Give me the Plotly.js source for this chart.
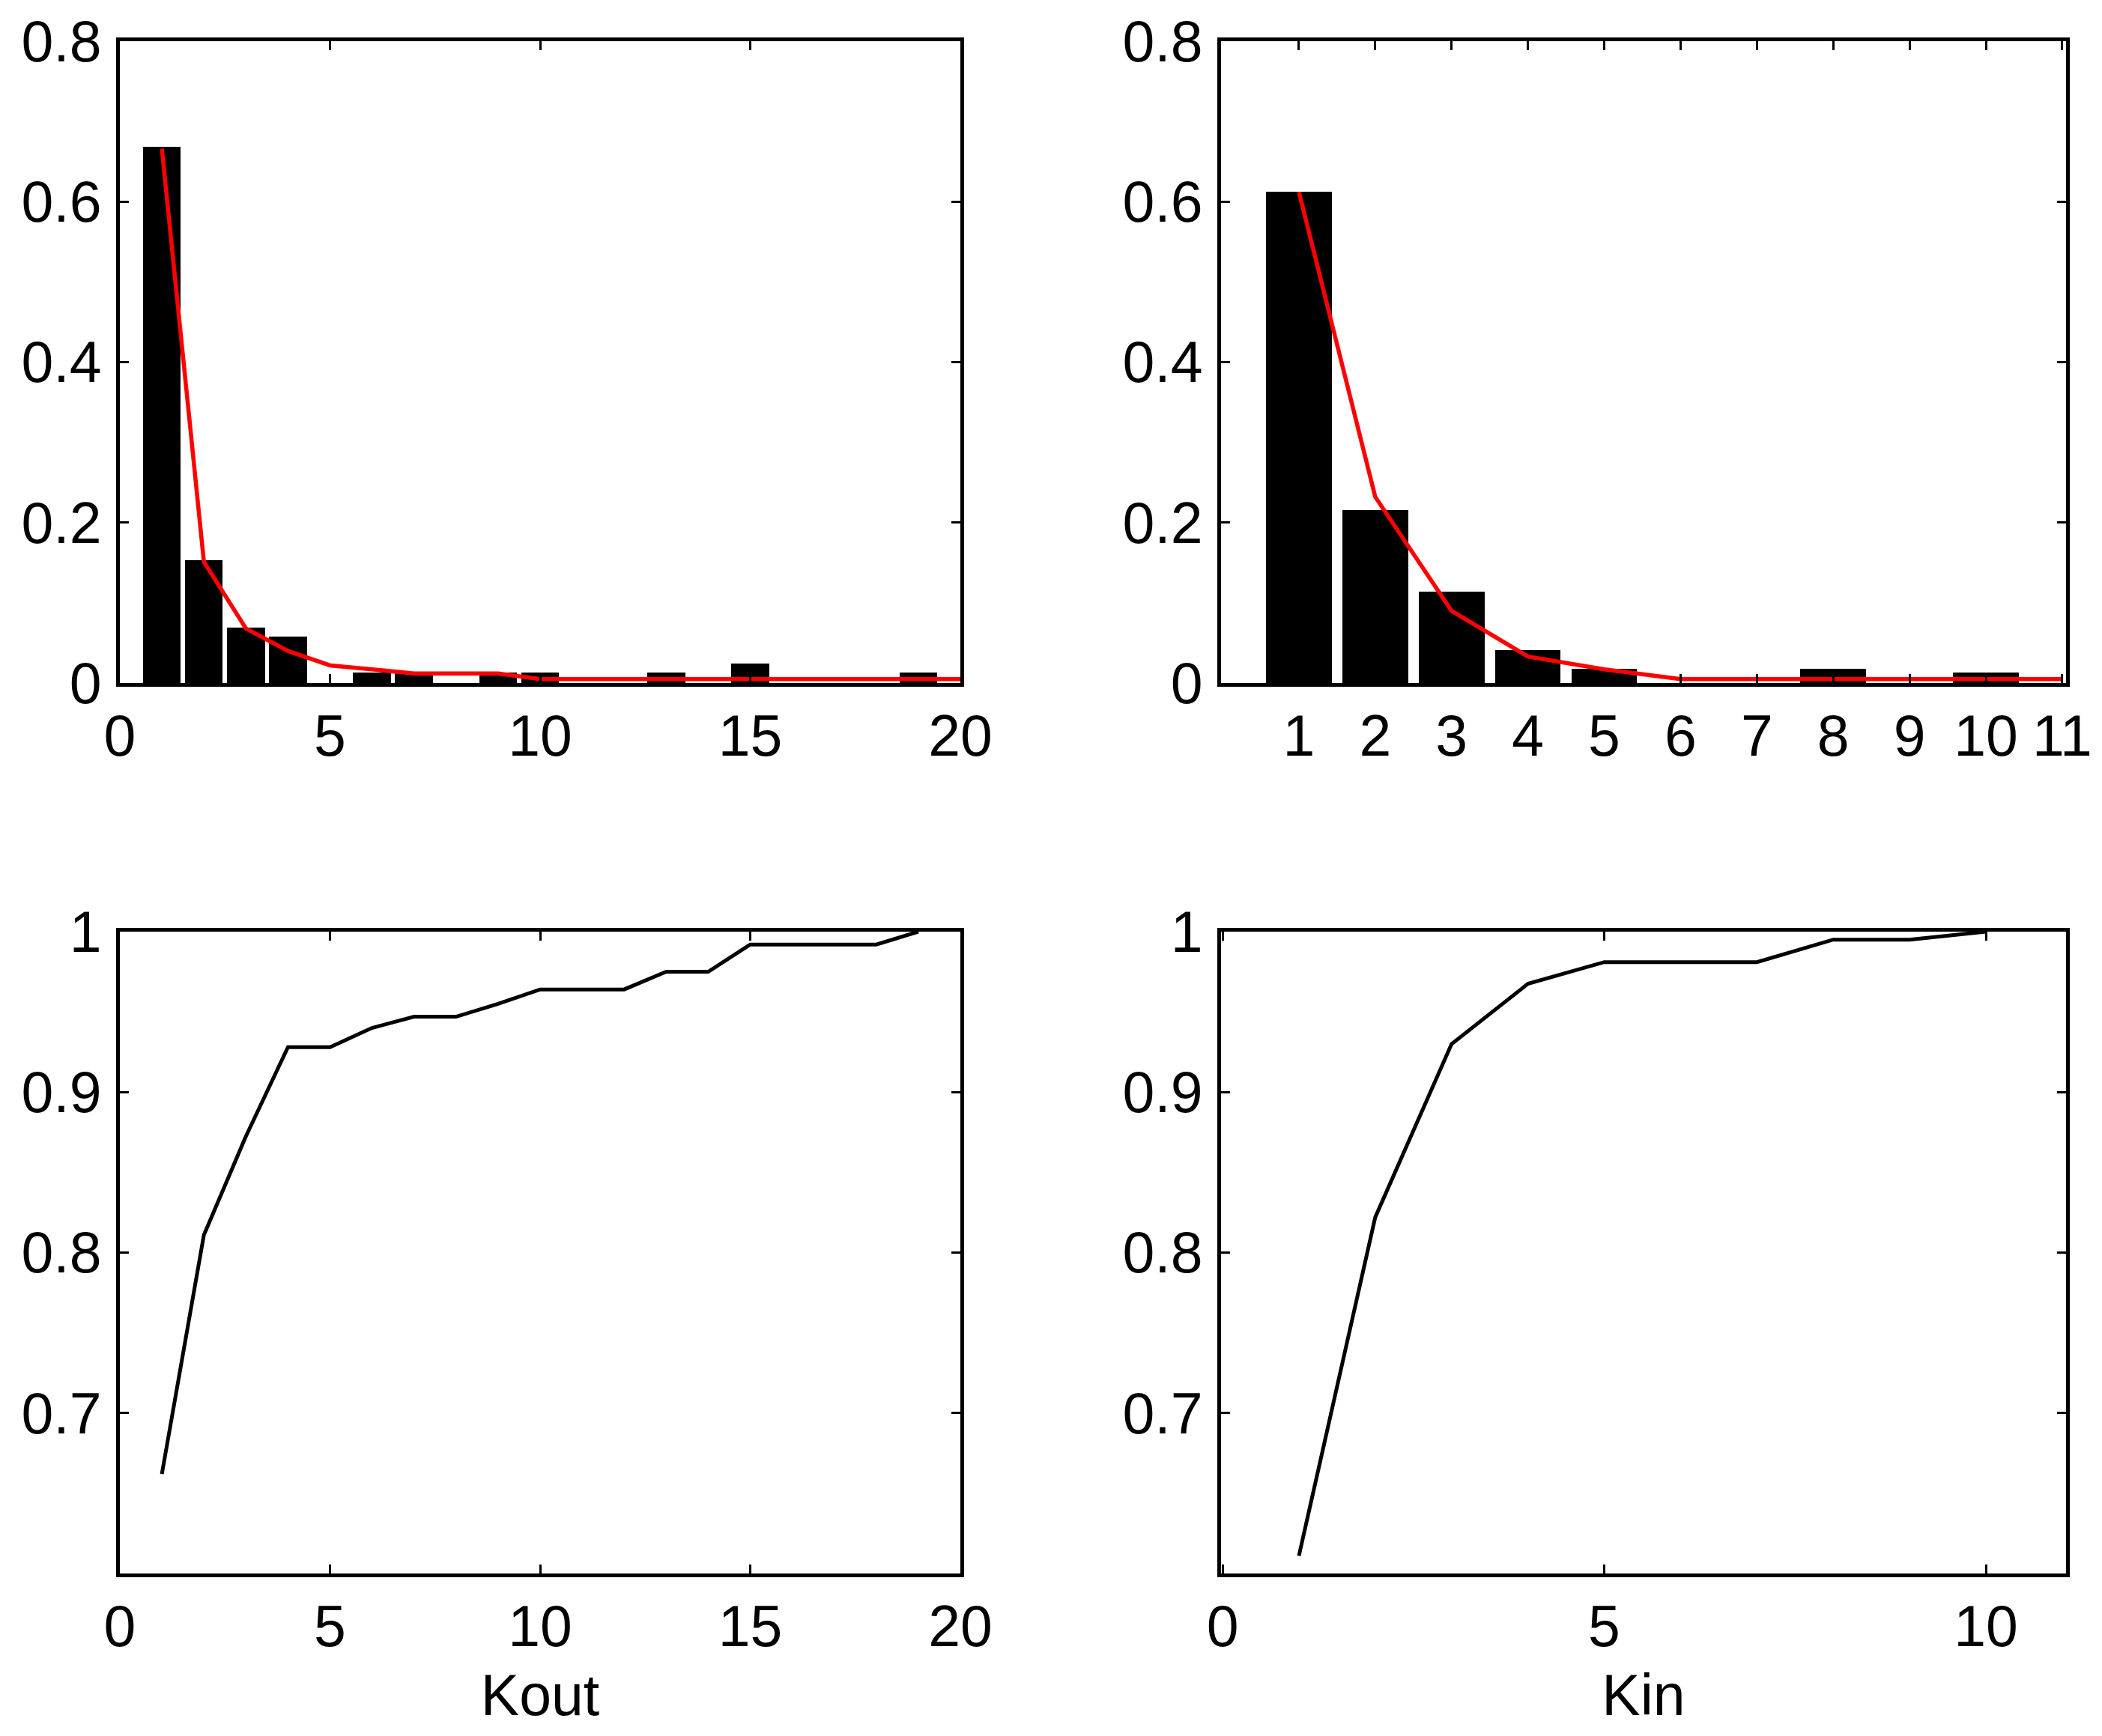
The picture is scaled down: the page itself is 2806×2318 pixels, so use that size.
<!DOCTYPE html>
<html>
<head>
<meta charset="utf-8">
<script src="https://cdn.plot.ly/plotly-3.0.1.min.js"></script>
<style>
  html, body { margin: 0; padding: 0; background: #fff; }
  #chart { width: 2806px; height: 2318px; }
</style>
</head>
<body>
<div id="chart"></div>
<script>
// out-degree histogram + fit
var koutX = [1, 2, 3, 4, 6, 7, 9, 10, 13, 15, 19];
var koutP = [0.668, 0.153, 0.069, 0.058, 0.0128, 0.012, 0.0128, 0.0128, 0.0128, 0.024, 0.0128];
var koutFitX = [1, 2, 3, 4, 5, 6, 7, 8, 9, 10, 11, 12, 13, 14, 15, 16, 17, 18, 19, 20];
var koutFit = [0.666, 0.151, 0.068, 0.040, 0.022, 0.017, 0.012, 0.012, 0.012, 0.005,
               0.005, 0.005, 0.005, 0.005, 0.005, 0.005, 0.005, 0.005, 0.005, 0.005];

// in-degree histogram + fit
var kinX = [1, 2, 3, 4, 5, 8, 10];
var kinP = [0.612, 0.216, 0.114, 0.041, 0.018, 0.018, 0.0128];
var kinFitX = [1, 2, 3, 4, 5, 6, 7, 8, 9, 10, 11];
var kinFit = [0.612, 0.232, 0.090, 0.033, 0.017, 0.005, 0.005, 0.005, 0.005, 0.005, 0.005];

// cumulative distributions
var koutCdfX = [1, 2, 3, 4, 5, 6, 7, 8, 9, 10, 11, 12, 13, 14, 15, 16, 17, 18, 19];
var koutCdf = [0.662, 0.811, 0.8725, 0.928, 0.928, 0.940, 0.947, 0.947, 0.955, 0.964,
               0.964, 0.964, 0.975, 0.975, 0.992, 0.992, 0.992, 0.992, 1.0];
var kinCdfX = [1, 2, 3, 4, 5, 6, 7, 8, 9, 10];
var kinCdf = [0.611, 0.822, 0.930, 0.9675, 0.981, 0.981, 0.981, 0.995, 0.995, 1.0];

// tick labels
var histYTicks = [0, 0.2, 0.4, 0.6, 0.8];
var histYText = ['0', '0.2', '0.4', '0.6', '0.8'];
var cdfYTicks = [0.7, 0.8, 0.9, 1];
var cdfYText = ['0.7', '0.8', '0.9', '1'];
var koutXTicks = [0, 5, 10, 15, 20];
var kinHistXTicks = [1, 2, 3, 4, 5, 6, 7, 8, 9, 10, 11];
var kinCdfXTicks = [0, 5, 10];

var fontFam = '"Liberation Sans", Arial, Helvetica, sans-serif';

function ax(domain, range, tickvals, ticktext, anchor, extra) {
  var a = {
    domain: domain, range: range, anchor: anchor,
    tickmode: 'array', tickvals: tickvals,
    ticks: 'inside', ticklen: 12, tickwidth: 3, tickcolor: '#000',
    showline: true, linewidth: 5, linecolor: '#000', mirror: 'ticks',
    showgrid: false, zeroline: false, fixedrange: true,
    tickfont: {family: fontFam, size: 77, color: '#000'}
  };
  if (ticktext) a.ticktext = ticktext;
  for (var k in extra) a[k] = extra[k];
  return a;
}

var data = [
  {type: 'bar', x: koutX, y: koutP, width: 0.9, marker: {color: '#000'}, xaxis: 'x', yaxis: 'y'},
  {type: 'scatter', mode: 'lines', x: koutFitX, y: koutFit, line: {color: '#ff0000', width: 5.5}, xaxis: 'x', yaxis: 'y'},
  {type: 'bar', x: kinX, y: kinP, width: 0.86, marker: {color: '#000'}, xaxis: 'x2', yaxis: 'y2'},
  {type: 'scatter', mode: 'lines', x: kinFitX, y: kinFit, line: {color: '#ff0000', width: 5.5}, xaxis: 'x2', yaxis: 'y2'},
  {type: 'scatter', mode: 'lines', x: koutCdfX, y: koutCdf, line: {color: '#000', width: 5}, xaxis: 'x3', yaxis: 'y3'},
  {type: 'scatter', mode: 'lines', x: kinCdfX, y: kinCdf, line: {color: '#000', width: 5}, xaxis: 'x4', yaxis: 'y4'}
];

var leftDom = [160 / 2806, 1282 / 2806];
var rightDom = [1630 / 2806, 2758 / 2806];
var topDom = [(2318 - 912) / 2318, (2318 - 55) / 2318];
var botDom = [(2318 - 2101) / 2318, (2318 - 1244) / 2318];

var xStand = {ticklabelstandoff: 0};
var yStand = {ticklabelstandoff: 4};

var layout = {
  width: 2806, height: 2318, autosize: false,
  margin: {l: 0, r: 0, t: 0, b: 0},
  paper_bgcolor: '#fff', plot_bgcolor: '#fff',
  showlegend: false, bargap: 0,
  font: {family: fontFam, size: 77, color: '#000'},
  xaxis: ax(leftDom, [0, 20], koutXTicks, null, 'y', xStand),
  yaxis: ax(topDom, [0, 0.8], histYTicks, histYText, 'x', yStand),
  xaxis2: ax(rightDom, [-0.02, 11.05], kinHistXTicks, null, 'y2', xStand),
  yaxis2: ax(topDom, [0, 0.8], histYTicks, histYText, 'x2', yStand),
  xaxis3: ax(leftDom, [0, 20], koutXTicks, null, 'y3',
    {ticklabelstandoff: 0, title: {text: 'Kout', font: {family: fontFam, size: 77, color: '#000'}, standoff: 24}}),
  yaxis3: ax(botDom, [0.6, 1], cdfYTicks, cdfYText, 'x3', yStand),
  xaxis4: ax(rightDom, [-0.02, 11.05], kinCdfXTicks, null, 'y4',
    {ticklabelstandoff: 0, title: {text: 'Kin', font: {family: fontFam, size: 77, color: '#000'}, standoff: 24}}),
  yaxis4: ax(botDom, [0.6, 1], cdfYTicks, cdfYText, 'x4', yStand)
};

Plotly.newPlot('chart', data, layout, {displayModeBar: false, staticPlot: true});
</script>
</body>
</html>
